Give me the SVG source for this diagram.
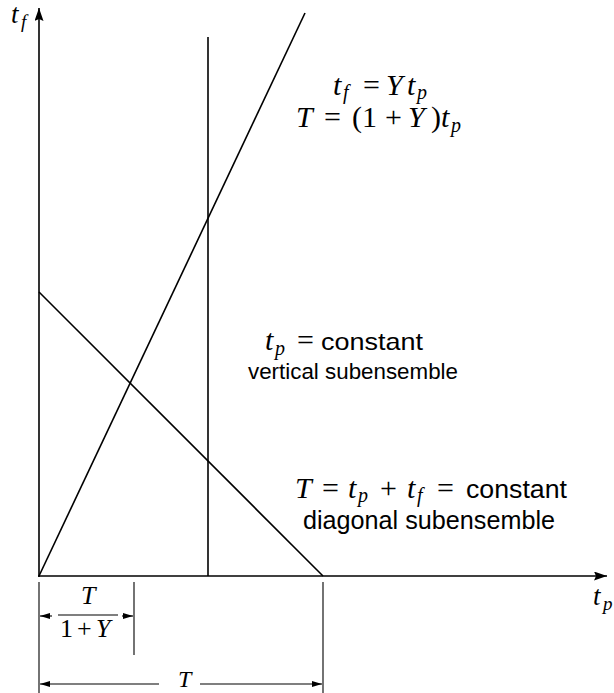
<svg xmlns="http://www.w3.org/2000/svg" width="614" height="693" viewBox="0 0 614 693">
<style>
.ln{stroke:#000;stroke-width:1.6;fill:none}
.dim{stroke:#000;stroke-width:1.1;fill:none}
.m{font-family:"Liberation Serif","Times New Roman",serif;font-style:italic;font-size:30px;fill:#000}
.r{font-style:normal}
.sub{font-size:20px}
.s{font-family:"Liberation Sans",Arial,sans-serif;font-style:normal;fill:#000}
</style>
<defs>
<marker id="ah" markerWidth="13" markerHeight="9" refX="13" refY="4.5" orient="auto" markerUnits="userSpaceOnUse">
<path d="M0,0 L13,4.5 L0,9 L2,4.5 Z" fill="#000"/>
</marker>
<marker id="sa" markerWidth="10" markerHeight="6" refX="10" refY="3" orient="auto" markerUnits="userSpaceOnUse">
<path d="M0,0 L10,3 L0,6 Z" fill="#000"/>
</marker>
</defs>
<g id="connectors">
<line class="ln" x1="39" y1="577" x2="39" y2="8" marker-end="url(#ah)"/>
<line class="ln" x1="38" y1="576" x2="607" y2="576" marker-end="url(#ah)"/>
<line class="ln" x1="39" y1="292" x2="323" y2="576"/>
<line class="ln" x1="39" y1="576" x2="305" y2="13"/>
<line class="ln" x1="208" y1="37" x2="208" y2="576"/>
<line class="dim" x1="39" y1="582" x2="39" y2="693"/>
<line class="dim" x1="134" y1="582" x2="134" y2="655"/>
<line class="dim" x1="323" y1="582" x2="323" y2="693"/>
<line class="dim" x1="52" y1="616" x2="40" y2="616" marker-end="url(#sa)"/>
<line class="dim" x1="122" y1="616" x2="133" y2="616" marker-end="url(#sa)"/>
<line class="dim" x1="159" y1="684" x2="40" y2="684" marker-end="url(#sa)"/>
<line class="dim" x1="200" y1="684" x2="322" y2="684" marker-end="url(#sa)"/>
<line class="dim" x1="58" y1="615" x2="118" y2="615"/>
</g>
<g id="axis-label-tf">
<text class="m" style="font-size:27px" x="11" y="23">t<tspan class="sub" style="font-size:19px" x="21" y="28">f</tspan></text>
</g>
<g id="axis-label-tp">
<text class="m" style="font-size:27px" x="593" y="605">t<tspan class="sub" style="font-size:19px" x="603" y="610">p</tspan></text>
</g>
<g id="label-line">
<text class="m" x="333" y="95">t<tspan class="sub" x="343" y="99">f</tspan><tspan class="r" x="363" y="95">=</tspan><tspan x="386" y="95">Y</tspan><tspan x="407" y="95">t</tspan><tspan class="sub" x="417" y="99">p</tspan></text>
<text class="m" x="296" y="127">T<tspan class="r" x="324" y="127">=</tspan><tspan class="r" x="352" y="127">(1</tspan><tspan class="r" x="385" y="127">+</tspan><tspan x="408" y="127">Y</tspan><tspan class="r" x="431" y="127">)</tspan><tspan x="441" y="127">t</tspan><tspan class="sub" x="451" y="132">p</tspan></text>
</g>
<g id="label-vertical">
<text class="m" x="265" y="350">t<tspan class="sub" x="275" y="355">p</tspan><tspan class="r" x="297" y="350">=</tspan><tspan class="s" x="321" y="350" style="font-size:24px" textLength="102" lengthAdjust="spacingAndGlyphs">constant</tspan></text>
<text class="s" x="248" y="379" style="font-size:22.5px" textLength="210" lengthAdjust="spacingAndGlyphs">vertical subensemble</text>
</g>
<g id="label-diagonal">
<text class="m" x="295" y="498">T<tspan class="r" x="322" y="498">=</tspan><tspan x="348" y="498">t</tspan><tspan class="sub" x="358" y="502">p</tspan><tspan class="r" x="380" y="498">+</tspan><tspan x="407" y="498">t</tspan><tspan class="sub" x="417" y="502">f</tspan><tspan class="r" x="437" y="498">=</tspan><tspan class="s" x="466" y="498" style="font-size:25px" textLength="101" lengthAdjust="spacingAndGlyphs">constant</tspan></text>
<text class="s" x="303" y="529" style="font-size:25px" textLength="252" lengthAdjust="spacingAndGlyphs">diagonal subensemble</text>
</g>
<g id="dim-labels">
<text class="m" x="81" y="604" style="font-size:26px">T</text>
<text class="m" x="60" y="637" style="font-size:26px"><tspan class="r">1</tspan><tspan class="r" x="77">+</tspan><tspan x="96">Y</tspan></text>
<text class="m" x="178" y="687" style="font-size:24px">T</text>
</g>
</svg>
